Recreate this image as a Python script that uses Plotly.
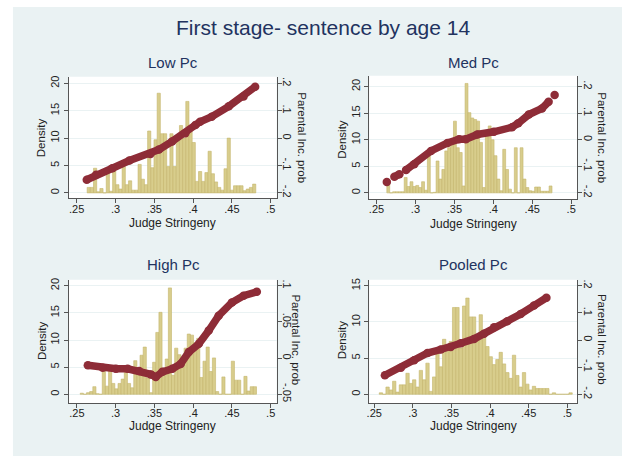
import plotly.graph_objects as go

W, H = 622, 456

# ---------------- data ----------------
main_title = "First stage- sentence by age 14"
panel_titles = ["Low Pc", "Med Pc", "High Pc", "Pooled Pc"]
x_title = "Judge Stringeny"
left_title = "Density"
right_title = "Parental Inc. prob"

x_tick_vals = [0.25, 0.30, 0.35, 0.40, 0.45, 0.50]
x_tick_text = [".25", ".3", ".35", ".4", ".45", ".5"]

density_ticks_20 = [0, 5, 10, 15, 20]
density_ticks_15 = [0, 5, 10, 15]
prob_ticks_wide = [-0.2, -0.1, 0.0, 0.1, 0.2]
prob_text_wide = ["-.2", "-.1", "0", ".1", ".2"]
prob_ticks_high = [-0.05, 0.0, 0.05, 0.1]
prob_text_high = ["-.05", "0", ".05", ".1"]

# Low Pc
low_bin_start = 0.2635
low_bin_width = 0.0041
low_density = [1.0, 1.0, 4.5, 0.2, 0.8, 0.0, 3.8, 0.3, 4.0, 1.5,
               0.7, 4.8, 1.5, 2.2, 0.5, 0.5, 5.2, 2.5, 1.5, 11.3,
               4.6, 9.7, 18.2, 10.8, 10.8, 4.8, 10.8, 4.8, 9.5, 12.3,
               10.0, 16.7, 12.3, 9.2, 2.1, 3.9, 2.1, 3.7, 7.6, 3.5,
               2.0, 1.0, 0.5, 4.4, 10.0, 0.5, 1.3, 1.3, 1.3, 0.4,
               0.7, 1.0, 1.6]
low_line_x = [0.263, 0.275, 0.296, 0.318, 0.345, 0.356, 0.373, 0.390,
              0.403, 0.409, 0.424, 0.446, 0.465, 0.480]
low_line_prob = [-0.152, -0.134, -0.110, -0.082, -0.058, -0.042, -0.012, 0.018,
                 0.048, 0.060, 0.078, 0.116, 0.152, 0.188]

# Med Pc
med_bin_start = 0.2633
med_bin_width = 0.00372
med_density = [1.6, 0.0, 0.2, 0.2, 0.2, 0.2, 2.9, 1.2, 2.1, 1.2,
               1.4, 1.0, 2.1, 0.5, 7.9, 0.0, 0.1, 6.0, 2.6, 4.4,
               7.9, 8.5, 9.7, 13.5, 8.5, 7.6, 1.3, 20.6, 15.1, 14.1,
               13.8, 13.5, 9.5, 1.0, 11.0, 12.6, 10.0, 7.0, 2.6, 0.4,
               8.2, 4.4, 0.7, 0.0, 8.5, 0.0, 8.5, 2.6, 1.0, 0.4,
               0.3, 1.1, 1.1, 0.3, 0.3, 0.3, 1.3]
med_line_x = [0.2633, None, 0.273, 0.2794, None, 0.288, 0.2985, 0.320, 0.3412,
              0.356, 0.3646, 0.3795, 0.4007, 0.424, 0.432, 0.4456, 0.4625,
              0.471, None, 0.4787]
med_line_prob = [-0.159, None, -0.139, -0.130, None, -0.114, -0.092, -0.042, -0.012,
                 0.002, 0.002, 0.020, 0.030, 0.047, 0.062, 0.095, 0.118,
                 0.143, None, 0.168]

# High Pc
high_bin_start = 0.2543
high_bin_width = 0.00406
high_density = [0.2, 0.0, 0.3, 0.5, 1.4, 0.1, 0.0, 4.8, 1.5, 4.5,
                2.0, 1.0, 2.0, 2.8, 4.3, 2.0, 1.2, 6.2, 4.6, 7.2,
                8.7, 3.0, 0.3, 5.9, 11.4, 15.1, 3.5, 6.5, 19.6, 3.5,
                8.5, 7.3, 5.0, 8.5, 11.1, 10.9, 9.5, 10.3, 3.1, 6.1,
                8.7, 4.2, 6.7, 0.5, 0.0, 3.2, 0.0, 0.0, 6.1, 2.6,
                2.6, 0.0, 3.3, 0.6, 1.4, 1.4]
high_line_x = [0.2641, 0.2833, 0.3004, 0.3154, 0.3303, 0.3453, 0.3517, 0.3603,
               0.3731, 0.3838, 0.3944, 0.4073, 0.4201, 0.4329, 0.450, 0.465, 0.4821]
high_line_prob = [-0.010, -0.0133, -0.0147, -0.0147, -0.0178, -0.0225, -0.026, -0.019,
                  -0.0147, -0.008, 0.0083, 0.0197, 0.038, 0.0587, 0.077, 0.0863, 0.0917]

# Pooled Pc
pooled_bin_start = 0.2565
pooled_bin_width = 0.00431
pooled_density = [0.2, 0.0, 1.0, 0.6, 1.8, 0.3, 1.3, 1.3, 2.9, 1.5,
                  2.0, 1.0, 3.3, 2.0, 4.3, 0.4, 2.4, 5.6, 3.8, 7.6,
                  6.6, 7.3, 12.0, 12.0, 6.4, 12.2, 13.3, 10.7, 10.7, 7.8,
                  11.0, 8.5, 6.6, 5.2, 4.1, 4.8, 5.8, 4.2, 3.0, 2.2,
                  5.4, 2.6, 1.0, 3.0, 1.4, 0.6, 1.1, 0.8, 0.8, 0.8,
                  0.8, 0.0, 0.2, 0.0, 0.0, 0.0, 0.0, 0.2]
pooled_line_x = [0.2638, 0.2845, 0.3017, 0.319, 0.3362, 0.3491, 0.3621, 0.3793,
                 0.3922, 0.4052, 0.4224, 0.4397, 0.4569, 0.473]
pooled_line_prob = [-0.130, -0.102, -0.075, -0.048, -0.035, -0.026, -0.012, 0.004,
                    0.023, 0.047, 0.069, 0.096, 0.127, 0.156]

# ---------------- styling / layout ----------------
BG = "#EAF2F3"
BAR_FILL = "rgb(216,205,140)"
BAR_EDGE = "rgb(196,182,108)"
LINE_COL = "#8E2C37"
TITLE_COL = "#22335F"
AXIS_COL = "#555555"
TEXT_COL = "#222222"
FONT = "Liberation Sans, Arial, sans-serif"

panels = [
    dict(title=panel_titles[0], start=low_bin_start, width=low_bin_width, dens=low_density,
         lx=low_line_x, ly=low_line_prob, lt=density_ticks_20, rt=prob_ticks_wide, rtt=prob_text_wide,
         box=(66, 275, 75, 197), xr=[0.2397, 0.5077], yr=[-0.96, 21.22], y2r=[-0.2192, 0.2244],
         xstand=-3, tpos=(170.5, 61.0), xtpos=(170.5, 222.0), ltpos=(38.5, 136.5), rtpos=(301.0, 136.5)),
    dict(title=panel_titles[1], start=med_bin_start, width=med_bin_width, dens=med_density,
         lx=med_line_x, ly=med_line_prob, lt=density_ticks_20, rt=prob_ticks_wide, rtt=prob_text_wide,
         box=(368, 577, 74, 198), xr=[0.2407, 0.5077], yr=[-1.18, 22.06], y2r=[-0.2236, 0.2412],
         xstand=-4, tpos=(472.5, 61.0), xtpos=(472.5, 222.5), ltpos=(340.5, 137.5), rtpos=(602.0, 136.0)),
    dict(title=panel_titles[2], start=high_bin_start, width=high_bin_width, dens=high_density,
         lx=high_line_x, ly=high_line_prob, lt=density_ticks_20, rt=prob_ticks_high, rtt=prob_text_high,
         box=(66, 275, 279, 403), xr=[0.2394, 0.5077], yr=[-1.65, 21.10], y2r=[-0.0624, 0.1083],
         xstand=-4, tpos=(171.0, 263.5), xtpos=(170.5, 426.0), ltpos=(38.8, 340.0), rtpos=(294.5, 339.0)),
    dict(title=panel_titles[3], start=pooled_bin_start, width=pooled_bin_width, dens=pooled_density,
         lx=pooled_line_x, ly=pooled_line_prob, lt=density_ticks_15, rt=prob_ticks_wide, rtt=prob_text_wide,
         box=(368, 577, 279, 403), xr=[0.2435, 0.5129], yr=[-1.24, 15.83], y2r=[-0.2331, 0.2221],
         xstand=-4, tpos=(473.0, 263.5), xtpos=(472.5, 426.0), ltpos=(340.5, 339.0), rtpos=(602.5, 339.0)),
]

fig = go.Figure()
layout = dict(
    width=W, height=H,
    margin=dict(l=0, r=0, t=0, b=0),
    paper_bgcolor="white",
    plot_bgcolor="rgba(0,0,0,0)",
    showlegend=False,
    font=dict(family=FONT, color=TEXT_COL, size=11),
    shapes=[dict(type="rect", xref="paper", yref="paper", x0=10 / W, x1=1.0, y0=0.0,
                 y1=1 - 5 / H, fillcolor=BG, line=dict(width=0), layer="below")],
    annotations=[dict(text=main_title, x=322 / W, y=1 - 26.0 / H, xref="paper", yref="paper",
                      xanchor="center", yanchor="middle", showarrow=False,
                      font=dict(size=21, color=TITLE_COL, family=FONT))],
)


def fx(px):
    return px / W


def fy(py):
    return 1 - py / H


for i, p in enumerate(panels):
    n = i + 1
    xname = "x" if n == 1 else f"x{n}"
    yl = f"y{2 * n - 1}" if (2 * n - 1) > 1 else "y"
    yr = f"y{2 * n}"
    x0, x1, y0, y1 = p["box"]

    centers = [p["start"] + p["width"] * (k + 0.5) for k in range(len(p["dens"]))]
    fig.add_trace(go.Bar(x=centers, y=p["dens"], width=p["width"], xaxis=xname, yaxis=yl,
                         marker=dict(color=BAR_FILL, line=dict(color=BAR_EDGE, width=0.6)),
                         hoverinfo="skip"))
    fig.add_trace(go.Scatter(x=p["lx"], y=p["ly"], xaxis=xname, yaxis=yr,
                             mode="lines+markers", connectgaps=False,
                             line=dict(color=LINE_COL, width=7.5),
                             marker=dict(color=LINE_COL, size=8.5, line=dict(width=0)),
                             hoverinfo="skip"))

    layout["xaxis" if n == 1 else f"xaxis{n}"] = dict(
        domain=[fx(x0), fx(x1)], anchor=yl, range=p["xr"],
        tickmode="array", tickvals=x_tick_vals, ticktext=x_tick_text,
        ticks="outside", ticklen=4, tickcolor=AXIS_COL, tickwidth=1, ticklabelstandoff=p["xstand"],
        showline=True, linecolor=AXIS_COL, linewidth=1, showgrid=False, zeroline=False,
        tickfont=dict(size=11, color=TEXT_COL, family=FONT), fixedrange=True)
    layout["yaxis" if n == 1 else f"yaxis{2 * n - 1}"] = dict(
        domain=[fy(y1), fy(y0)], anchor=xname, range=p["yr"], side="left",
        tickmode="array", tickvals=p["lt"], ticktext=[str(v) for v in p["lt"]], tickangle=-90,
        ticks="outside", ticklen=4, tickcolor=AXIS_COL, tickwidth=1,
        showline=True, linecolor=AXIS_COL, linewidth=1,
        showgrid=True, gridcolor=BG, gridwidth=1, zeroline=False,
        tickfont=dict(size=11, color=TEXT_COL, family=FONT), fixedrange=True)
    layout[f"yaxis{2 * n}"] = dict(
        overlaying=yl, anchor=xname, range=p["y2r"], side="right",
        tickmode="array", tickvals=p["rt"], ticktext=p["rtt"], tickangle=90,
        ticks="outside", ticklen=4, tickcolor=AXIS_COL, tickwidth=1, ticklabelstandoff=-3,
        showline=True, linecolor=AXIS_COL, linewidth=1,
        showgrid=False, zeroline=False,
        tickfont=dict(size=11, color=TEXT_COL, family=FONT), fixedrange=True)

    layout["shapes"].append(dict(type="rect", xref="paper", yref="paper",
                                 x0=fx(x0), x1=fx(x1), y0=fy(y1), y1=fy(y0),
                                 fillcolor="white", line=dict(width=0), layer="below"))

    tx, ty = p["tpos"]
    layout["annotations"].append(dict(text=p["title"], x=fx(tx), y=fy(ty), xref="paper", yref="paper",
                                      xanchor="center", yanchor="middle", showarrow=False,
                                      font=dict(size=15, color=TITLE_COL, family=FONT)))
    tx, ty = p["xtpos"]
    layout["annotations"].append(dict(text=x_title, x=fx(tx), y=fy(ty), xref="paper", yref="paper",
                                      xanchor="center", yanchor="middle", showarrow=False,
                                      font=dict(size=12, color=TEXT_COL, family=FONT)))
    tx, ty = p["ltpos"]
    layout["annotations"].append(dict(text=left_title, x=fx(tx), y=fy(ty), xref="paper", yref="paper",
                                      xanchor="center", yanchor="middle", showarrow=False, textangle=-90,
                                      font=dict(size=11.5, color=TEXT_COL, family=FONT)))
    tx, ty = p["rtpos"]
    layout["annotations"].append(dict(text=right_title, x=fx(tx), y=fy(ty), xref="paper", yref="paper",
                                      xanchor="center", yanchor="middle", showarrow=False, textangle=90,
                                      font=dict(size=11.5, color=TEXT_COL, family=FONT)))

fig.update_layout(**layout)
fig.write_html("out.html")
